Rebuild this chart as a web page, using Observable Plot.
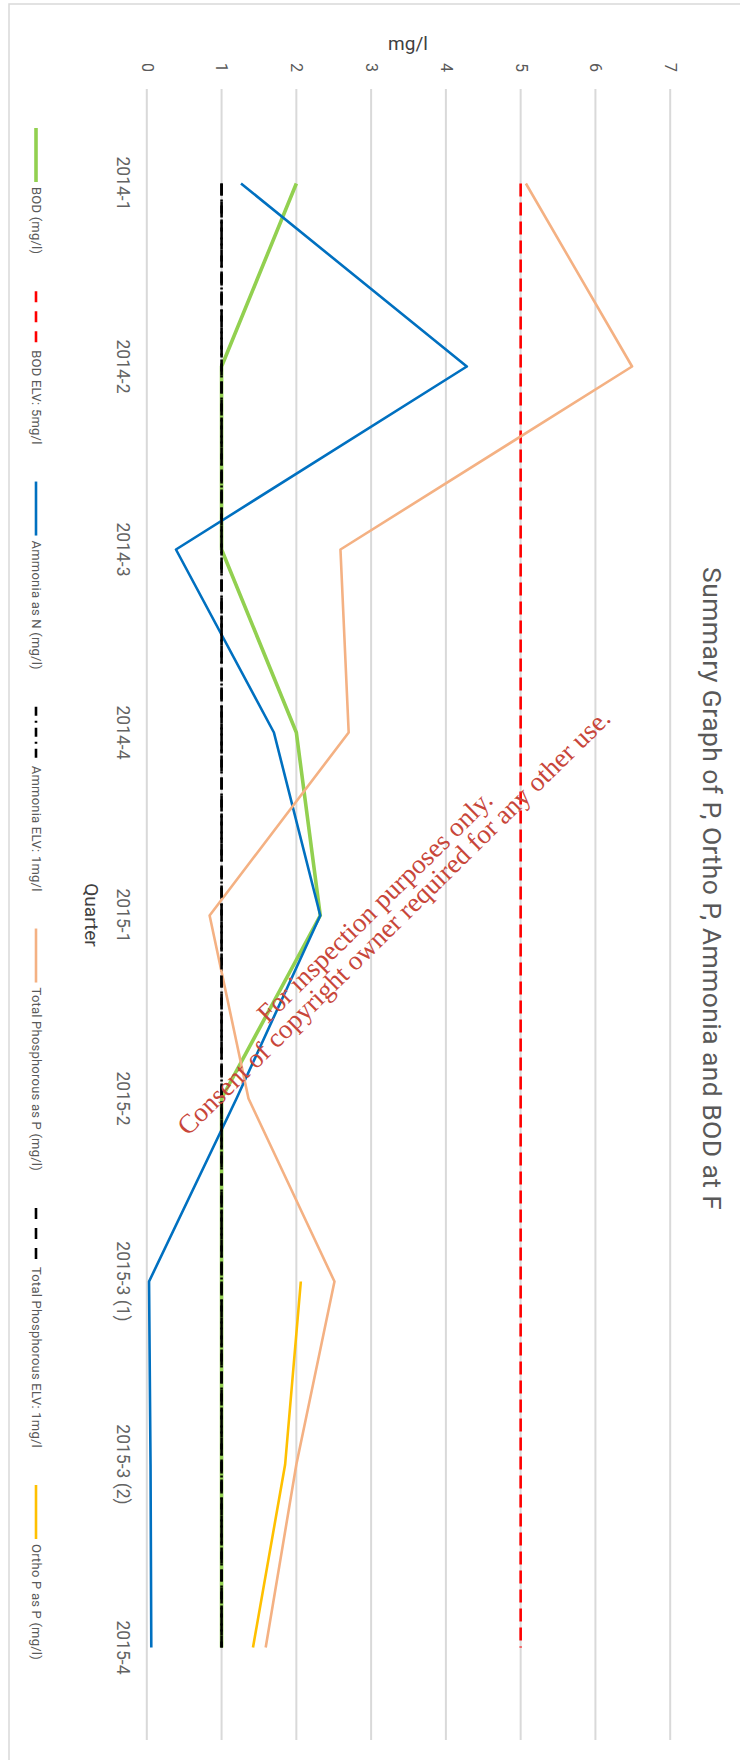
<!DOCTYPE html>
<html><head><meta charset="utf-8">
<script src="https://cdn.jsdelivr.net/npm/d3@7"></script>
<script src="https://cdn.jsdelivr.net/npm/@observablehq/plot@0.6"></script>
<style>body{margin:0;background:#fff;} #chart{width:740px;height:1760px;position:relative;}</style>
</head><body><div id="chart"></div>
<script>
// ---- data ----
const quarters = ["2014-1","2014-2","2014-3","2014-4","2015-1","2015-2","2015-3 (1)","2015-3 (2)","2015-4"];
const bod        = [2.0, 1.0, 1.0, 2.0, 2.32, 1.0, 1.0, 1.0, 1.0];
const bodELV     = 5;
const ammonia    = [1.26, 4.28, 0.39, 1.70, 2.32, 1.20, 0.03, 0.05, 0.06];
const ammoniaELV = 1;
const totalP     = [5.07, 6.49, 2.59, 2.70, 0.84, 1.36, 2.51, 2.00, 1.59];
const totalPELV  = 1;
const orthoP     = [null, null, null, null, null, null, 2.06, 1.85, 1.42];
const valueTicks = [0, 1, 2, 3, 4, 5, 6, 7];
const seriesNames = ["BOD (mg/l)", "BOD ELV: 5mg/l", "Ammonia as N (mg/l)", "Ammonia ELV: 1mg/l",
  "Total Phosphorous as P (mg/l)", "Total Phosphorous ELV: 1mg/l", "Ortho P as P (mg/l)"];
const titleText = "Summary Graph of P, Ortho P, Ammonia and BOD at F";
const valueLabel = "mg/l";
const categoryLabel = "Quarter";
const watermarkLines = ["For inspection purposes only.", "Consent of copyright owner required for any other use."];

// ---- styles ----
const seriesStyles = [
  {stroke: "#92d050", width: 3.6, dash: null},
  {stroke: "#ff0000", width: 2.6, dash: "13,6"},
  {stroke: "#0070c0", width: 2.6, dash: null},
  {stroke: "#000000", width: 2.6, dash: "12,4,2,4"},
  {stroke: "#f4b183", width: 2.6, dash: null},
  {stroke: "#000000", width: 2.6, dash: "12,6"},
  {stroke: "#ffc000", width: 2.6, dash: null}
];
const legendDash = [null, "11,9", null, "9,5,2,5", null, "11,9", null];
const textGrey = "#595959";

const seriesValues = [
  bod,
  quarters.map(() => bodELV),
  ammonia,
  quarters.map(() => ammoniaELV),
  totalP,
  quarters.map(() => totalPELV),
  orthoP
];

const rows = seriesValues.map((vals, i) =>
  quarters.map((q, j) => ({quarter: q, value: vals[j], series: seriesNames[i]}))
    .filter(d => d.value != null));

const W = 740, H = 1760;
const chart = Plot.plot({
  width: W, height: H,
  marginTop: 89, marginBottom: 20, marginLeft: 146.3, marginRight: 70.3,
  style: {fontFamily: "Roboto, sans-serif", background: "white"},
  x: {domain: [0, 7], axis: null},
  y: {type: "point", domain: quarters, padding: 0.5, axis: null},
  marks: [
    Plot.gridX(valueTicks, {stroke: "#d9d9d9", strokeWidth: 2, strokeOpacity: 1}),
    ...rows.map((r, i) => Plot.line(r, {
      x: "value", y: "quarter",
      stroke: seriesStyles[i].stroke, strokeWidth: seriesStyles[i].width,
      strokeDasharray: seriesStyles[i].dash, strokeLinejoin: "round", strokeLinecap: "butt"
    })),
    Plot.text(valueTicks, {x: d => d, frameAnchor: "top", dy: -22, rotate: 90,
      textAnchor: "middle", lineAnchor: "middle",
      text: d => String(d), fontSize: 16, fill: textGrey}),
    Plot.text(quarters, {y: d => d, frameAnchor: "left", dx: -24.5, rotate: 90,
      textAnchor: "middle", lineAnchor: "middle",
      text: d => d, fontSize: 17.5, fill: "#636363"})
  ]
});
document.getElementById("chart").appendChild(chart);

const svg = d3.select(chart);
// frame border
svg.append("path").attr("d", `M9,${H}V4H${W}`).attr("fill", "none")
  .attr("stroke", "#d9d9d9").attr("stroke-width", 1.5);

// value axis label
svg.append("text").attr("x", 408).attr("y", 50).attr("text-anchor", "middle")
  .attr("font-size", 19).attr("fill", "#404040").attr("font-family", "Roboto, sans-serif").text(valueLabel);

// category axis label
svg.append("text").attr("transform", "translate(92,915) rotate(90)")
  .attr("text-anchor", "middle").attr("dy", "0.35em").attr("font-size", 19)
  .attr("fill", "#404040").attr("font-family", "Roboto, sans-serif").text(categoryLabel);

// title
svg.append("text").attr("transform", "translate(712.6,888.5) rotate(90)")
  .attr("text-anchor", "middle").attr("dy", "0.35em").attr("font-size", 26.5)
  .attr("textLength", 643).attr("lengthAdjust", "spacing")
  .attr("fill", textGrey).attr("font-family", "Roboto, sans-serif").text(titleText);

// legend
let ly = 128;
const lx = 36;
seriesNames.forEach((name, i) => {
  svg.append("line").attr("x1", lx).attr("x2", lx).attr("y1", ly).attr("y2", ly + 54)
    .attr("stroke", seriesStyles[i].stroke).attr("stroke-width", seriesStyles[i].width)
    .attr("stroke-dasharray", legendDash[i]);
  const t = svg.append("text").attr("transform", `translate(${lx + 1},${ly + 59}) rotate(90)`)
    .attr("text-anchor", "start").attr("dy", "0.35em").attr("font-size", 13)
    .attr("letter-spacing", 0.22).attr("fill", textGrey)
    .attr("font-family", "Roboto, sans-serif").text(name);
  const len = t.node().getComputedTextLength();
  ly = ly + 59 + len + 37;
});

// watermark
const wm = svg.append("g").attr("fill", "#c8463a").attr("font-family", "'Liberation Serif', 'Times New Roman', serif")
  .attr("font-size", 27).attr("text-anchor", "middle");
wm.append("text").attr("transform", "translate(381,913) rotate(-44.5)").text(watermarkLines[0]);
wm.append("text").attr("transform", "translate(400,928.3) rotate(-44.5)").text(watermarkLines[1]);
</script>
</body></html>
